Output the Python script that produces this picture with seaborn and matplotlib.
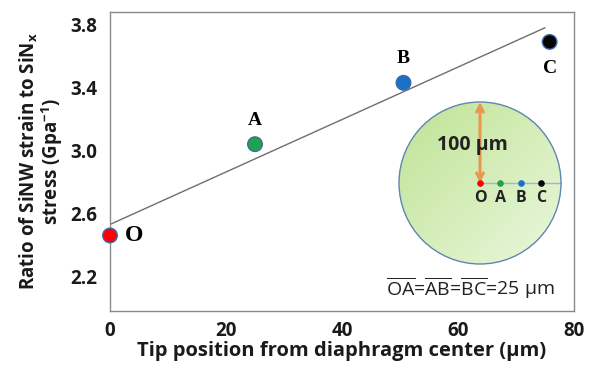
import numpy as np
import pandas as pd
import seaborn as sns
import matplotlib.pyplot as plt
from matplotlib.patches import Circle

# data
tip_pos = [0, 25, 50.6, 75.8]
ratio = [2.46, 3.04, 3.43, 3.69]
point_names = ['O', 'A', 'B', 'C']
point_colors = ['#ff0000', '#1fa34a', '#1a6fc6', '#050505']
trend_x = [0, 75]
trend_y = [2.53, 3.78]
xticks = [0, 20, 40, 60, 80]
yticks = [2.2, 2.6, 3.0, 3.4, 3.8]

sns.set_style("white")
plt.rcParams['font.family'] = ['Open Sans', 'DejaVu Sans']
plt.rcParams['mathtext.fontset'] = 'custom'
plt.rcParams['mathtext.rm'] = 'Open Sans'
plt.rcParams['mathtext.it'] = 'Open Sans'
plt.rcParams['mathtext.bf'] = 'Open Sans:bold'

fig = plt.figure(figsize=(5.89, 3.67), dpi=100)
ax = fig.add_axes([110/589, 56/367, 464/589, 299/367])

df = pd.DataFrame({'x': tip_pos, 'y': ratio, 'name': point_names})

# trend line
sns.lineplot(x=trend_x, y=trend_y, ax=ax, color='#6e6e6e', lw=1)

# points
sns.scatterplot(data=df, x='x', y='y', hue='name', palette=point_colors, s=110,
                edgecolor='#3d6aa8', linewidth=1, legend=False, ax=ax, zorder=3, clip_on=False)

# point labels
offsets = {'O': (24, 0), 'A': (0, 24), 'B': (0, 24), 'C': (0, -27)}
for i, n in enumerate(point_names):
    ax.annotate(n, (tip_pos[i], ratio[i]), xytext=offsets[n], textcoords='offset pixels',
                ha='center', va='center', family='Liberation Serif', fontweight='bold',
                fontsize=17 if n == 'O' else 14, color='black')

ax.set_xlim(0, 80)
ax.set_ylim(1.98, 3.88)
ax.set_xticks(xticks)
ax.set_yticks(yticks)
ax.set_yticklabels([f'{v:.1f}' for v in yticks])
for s in ax.spines.values():
    s.set_color('#8a8a8a')
    s.set_linewidth(1)
ax.tick_params(axis='x', direction='inout', length=9, color='#8a8a8a', pad=3)
ax.tick_params(axis='y', length=0, pad=9)
for lab in ax.get_xticklabels() + ax.get_yticklabels():
    lab.set_fontsize(13.5)
    lab.set_fontweight('bold')
    lab.set_color('#1a1a1a')

ax.set_xlabel('Tip position from diaphragm center (µm)', fontsize=14.5, fontweight='bold',
              color='#1a1a1a', labelpad=0)
ax.set_ylabel('Ratio of SiNW strain to SiN$_\\mathbf{x}$\nstress (Gpa$^\\mathbf{-1}$)',
              fontsize=13.5, fontweight='bold', color='#1a1a1a', labelpad=4, linespacing=1.0)

# inset diagram, units in um, 0.81 px per um
sc = 0.81
ix0, ix1, iy0, iy1 = 380, 580, 95, 308
cx, cy = 480, 183
ins = fig.add_axes([ix0/589, (367-iy1)/367, (ix1-ix0)/589, (iy1-iy0)/367])
ins.set_xlim((ix0-cx)/sc, (ix1-cx)/sc)
ins.set_ylim((cy-iy1)/sc, (cy-iy0)/sc)
ins.axis('off')
ins.patch.set_alpha(0)

circ = Circle((0, 0), 100, facecolor='none', edgecolor='#5e86b0', lw=1, zorder=3)
ins.add_patch(circ)
gx, gy = np.meshgrid(np.linspace(0, 1, 200), np.linspace(0, 1, 200))
t = (gx + gy) / 2
c0 = np.array([0.75, 0.89, 0.58])
c1 = np.array([0.92, 0.97, 0.87])
img = c0[None, None, :] * (1 - t[..., None]) + c1[None, None, :] * t[..., None]
im = ins.imshow(img, extent=(-100, 100, -100, 100), origin='upper', zorder=1)
im.set_clip_path(circ)

ins.plot([0, 100], [0, 0], color='#9fb6cb', lw=1, zorder=2)
ins.annotate('', xy=(0, 100), xytext=(0, 0),
             arrowprops=dict(arrowstyle='<->', color='#e9974f', lw=2.2, mutation_scale=12,
                             shrinkA=0, shrinkB=0), zorder=4)
ins.text(-9, 47, '100 µm', ha='center', va='center', fontsize=14, fontweight='bold',
         color='#222222', zorder=5)
for i, n in enumerate(point_names):
    ins.scatter([tip_pos[i]], [0], s=14, color=point_colors[i], zorder=5)
    ins.text(tip_pos[i], -18, n, ha='center', va='center', fontsize=11.5,
             fontweight='bold', color='#222222')
ins.text(-12, -130, '$\\overline{\\mathregular{OA}}$=$\\overline{\\mathregular{AB}}$=$\\overline{\\mathregular{BC}}$=25 µm',
         ha='center', va='center', fontsize=14, color='#222222')

fig.savefig('out.png', dpi=100)
